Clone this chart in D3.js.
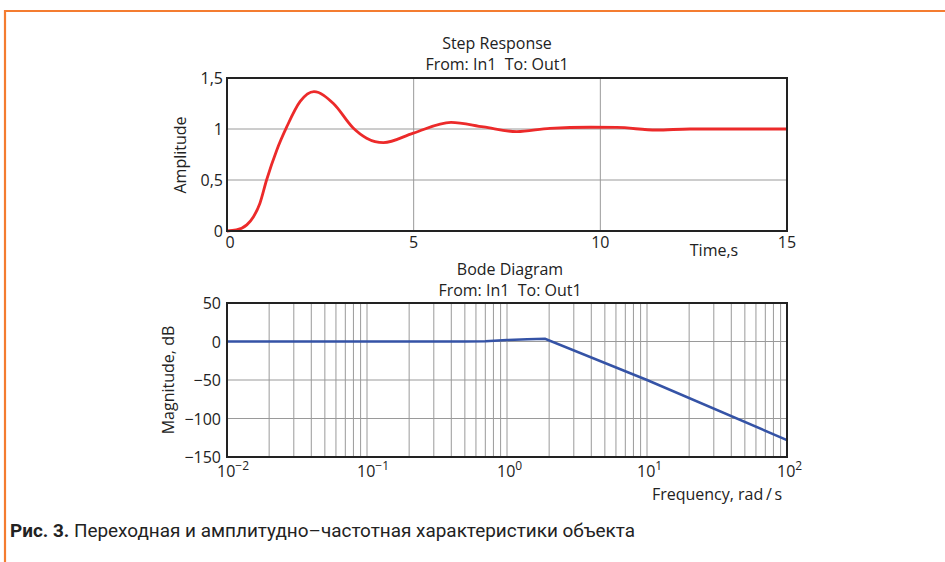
<!DOCTYPE html>
<html>
<head>
<meta charset="utf-8">
<script src="https://cdn.jsdelivr.net/npm/d3@7"></script>
<style>
	body { margin: 0; background: #fff; }
	svg { display: block; }
	.lbl { font-family: "Open Sans", "DejaVu Sans", sans-serif; fill: #222; }
</style>
</head>
<body>
<svg id="chart" width="945" height="562"></svg>
<script>
"use strict";

// Step response (time, s / amplitude)
var stepTime = [0, 0.25, 0.53, 0.71, 0.88, 1.06, 1.33, 1.6, 1.96, 2.33, 2.85, 3.38, 3.74, 4.19, 4.99, 6.0, 6.87, 7.76, 8.65, 9.72, 10.44, 11.5, 12.4, 13.5, 15];
var stepAmp = [0, 0.01, 0.06, 0.14, 0.27, 0.5, 0.79, 1.02, 1.27, 1.366, 1.25, 1.01, 0.91, 0.866, 0.96, 1.065, 1.02, 0.974, 1.007, 1.017, 1.015, 0.99, 1.0, 1.0, 1.0];
var stepXTicks = [0, 5, 10, 15];
var stepYTicks = [0, 0.5, 1, 1.5];
var stepYLabels = ['0', '0,5', '1', '1,5'];

// Bode magnitude (rad/s / dB)
var bodeFreq = [0.01, 0.5, 0.7, 1, 1.4, 1.87, 10, 100];
var bodeMag = [0, 0, 0.3, 1.8, 3, 3.6, -50, -128];
var bodeXTicks = [-2, -1, 0, 1, 2];
var bodeYTicks = [50, 0, -50, -100, -150];

+function(d3){

	var svg = d3.select('#chart');
	var orange = '#f47c30';

	// Frame
	svg.append('path')
		.attr('d', 'M5,562 V11 H945')
		.attr('fill', 'none')
		.attr('stroke', orange)
		.attr('stroke-width', 2.2);

	function label(x, y, txt, size, anchor) {
		return svg.append('text')
			.attr('class', 'lbl')
			.attr('x', x)
			.attr('y', y)
			.attr('font-size', size)
			.attr('text-anchor', anchor || 'middle')
			.text(txt);
	}

	//Step Response
	var x1 = d3.scaleLinear().domain([0, 15]).range([227, 787]);
	var y1 = d3.scaleLinear().domain([0, 1.5]).range([231, 78]);
	var g1 = svg.append('g');

	g1.selectAll('.vg').data([5, 10]).enter().append('line')
		.attr('x1', function(d){ return x1(d); }).attr('x2', function(d){ return x1(d); })
		.attr('y1', y1(0)).attr('y2', y1(1.5))
		.attr('stroke', '#9a9a9a').attr('stroke-width', 1);
	g1.selectAll('.hg').data([0.5, 1]).enter().append('line')
		.attr('y1', function(d){ return y1(d); }).attr('y2', function(d){ return y1(d); })
		.attr('x1', x1(0)).attr('x2', x1(15))
		.attr('stroke', '#9a9a9a').attr('stroke-width', 1);

	var stepData = stepTime.map(function(t, i){ return [t, stepAmp[i]]; });
	g1.append('path')
		.datum(stepData)
		.attr('fill', 'none')
		.attr('stroke', '#ec2a2a')
		.attr('stroke-width', 2.8)
		.attr('d', d3.line()
			.x(function(d){ return x1(d[0]); })
			.y(function(d){ return y1(d[1]); })
			.curve(d3.curveMonotoneX));

	g1.append('rect')
		.attr('x', x1(0)).attr('y', y1(1.5))
		.attr('width', x1(15) - x1(0)).attr('height', y1(0) - y1(1.5))
		.attr('fill', 'none').attr('stroke', '#222').attr('stroke-width', 2);

	stepXTicks.forEach(function(d){
		label(x1(d) + (d === 0 ? 3 : 0), 248, String(d), 16);
	});
	stepYTicks.forEach(function(d, i){
		label(223, y1(d) + 6, stepYLabels[i], 16, 'end');
	});
	label(714, 256, 'Time,s', 16);
	label(0, 0, 'Amplitude', 16).attr('transform', 'translate(186,155) rotate(-90)');
	label(497, 49, 'Step Response', 16);
	label(497, 70, 'From: In1  To: Out1', 16).style('white-space', 'pre');

	//Bode Diagram
	var x2 = d3.scaleLog().domain([0.01, 100]).range([227, 787]);
	var y2 = d3.scaleLinear().domain([-150, 50]).range([457, 303]);
	var g2 = svg.append('g');

	var minor = [];
	bodeXTicks.slice(0, -1).forEach(function(e){
		for (var k = 2; k <= 9; k++) minor.push(k * Math.pow(10, e));
	});
	bodeXTicks.slice(1, -1).forEach(function(e){ minor.push(Math.pow(10, e)); });

	g2.selectAll('.vg').data(minor).enter().append('line')
		.attr('x1', function(d){ return x2(d); }).attr('x2', function(d){ return x2(d); })
		.attr('y1', y2(-150)).attr('y2', y2(50))
		.attr('stroke', '#9a9a9a').attr('stroke-width', 1);
	g2.selectAll('.hg').data(bodeYTicks.slice(1, -1)).enter().append('line')
		.attr('y1', function(d){ return y2(d); }).attr('y2', function(d){ return y2(d); })
		.attr('x1', x2(0.01)).attr('x2', x2(100))
		.attr('stroke', '#9a9a9a').attr('stroke-width', 1);

	var bodeData = bodeFreq.map(function(f, i){ return [f, bodeMag[i]]; });
	g2.append('path')
		.datum(bodeData)
		.attr('fill', 'none')
		.attr('stroke', '#3553a6')
		.attr('stroke-width', 2.5)
		.attr('d', d3.line()
			.x(function(d){ return x2(d[0]); })
			.y(function(d){ return y2(d[1]); }));

	g2.append('rect')
		.attr('x', x2(0.01)).attr('y', y2(50))
		.attr('width', x2(100) - x2(0.01)).attr('height', y2(-150) - y2(50))
		.attr('fill', 'none').attr('stroke', '#222').attr('stroke-width', 2);

	bodeXTicks.forEach(function(e){
		var t = label(x2(Math.pow(10, e)) - 10, 477, '', 16, 'start');
		t.append('tspan').text('10');
		t.append('tspan').attr('dy', -7).attr('font-size', 12)
			.text(e < 0 ? '\u2212' + Math.abs(e) : String(e));
	});
	bodeYTicks.forEach(function(d){
		label(221, y2(d) + 6, d < 0 ? '\u2212' + Math.abs(d) : String(d), 16, 'end');
	});
	label(717, 500, 'Frequency, rad\u2009/\u2009s', 16);
	label(0, 0, 'Magnitude, dB', 16).attr('transform', 'translate(174,380) rotate(-90)');
	label(510, 275, 'Bode Diagram', 16);
	label(510, 296, 'From: In1  To: Out1', 16).style('white-space', 'pre');

	// Caption
	var cap = svg.append('text')
		.attr('x', 10)
		.attr('y', 537)
		.attr('font-family', '"Liberation Sans Narrow", Roboto, sans-serif')
		.attr('font-size', 18)
		.attr('fill', '#222')
		.attr('textLength', 625)
		.attr('lengthAdjust', 'spacingAndGlyphs');
	cap.append('tspan').attr('font-weight', 'bold').text('Рис. 3.');
	cap.append('tspan').text(' Переходная и амплитудно\u2013частотная характеристики объекта');

}(d3);
</script>
</body>
</html>
